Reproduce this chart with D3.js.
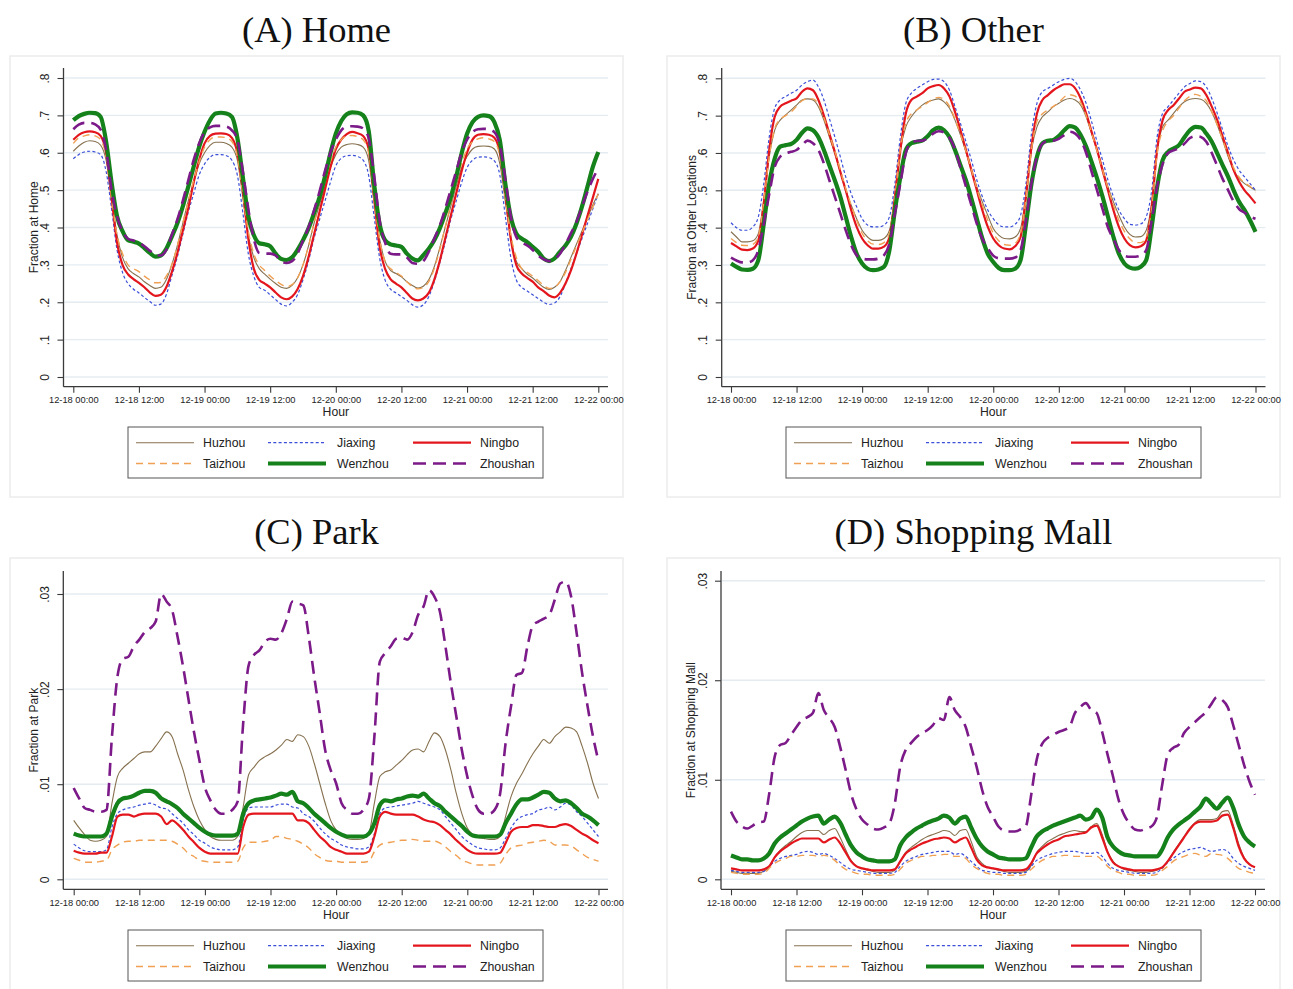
<!DOCTYPE html>
<html>
<head>
<meta charset="utf-8">
<script src="https://cdn.jsdelivr.net/npm/d3@7"></script>
<style>
  body { margin: 0; background: #fff; }
  svg { display: block; }
</style>
</head>
<body>
<svg id="chart" width="1293" height="989"></svg>
<script>
// Hours elapsed since 12-18 00:00, one reading per hour
const hours = d3.range(0, 97);
const cities = ["Huzhou", "Jiaxing", "Ningbo", "Taizhou", "Wenzhou", "Zhoushan"];
const xTickHours = [0, 12, 24, 36, 48, 60, 72, 84, 96];
const xTickLabels = ["12-18 00:00", "12-18 12:00", "12-19 00:00", "12-19 12:00", "12-20 00:00",
                     "12-20 12:00", "12-21 00:00", "12-21 12:00", "12-22 00:00"];
const shareTicks = [0, .1, .2, .3, .4, .5, .6, .7, .8];
const shareTickLabels = ["0", ".1", ".2", ".3", ".4", ".5", ".6", ".7", ".8"];
const smallTicks = [0, .01, .02, .03];
const smallTickLabels = ["0", ".01", ".02", ".03"];

// ---- (A) Home ----
const homeHuzhou = [
  .604,.618,.628,.632,.63,.62,.58,.48,.38,.32,.29,.277,.268,.255,.245,.237,.24,.26,.30,.35,.41,.47,.52,.57,
  .60,.62,.628,.628,.625,.615,.58,.48,.38,.32,.29,.275,.262,.25,.24,.237,.245,.265,.30,.35,.41,.46,.51,.56,
  .595,.615,.622,.624,.622,.615,.58,.47,.37,.31,.285,.277,.268,.255,.245,.238,.243,.26,.295,.345,.40,.455,.51,.56,
  .59,.61,.617,.618,.617,.61,.57,.47,.37,.31,.29,.275,.265,.252,.24,.234,.24,.255,.285,.32,.355,.39,.425,.46,.49];
const homeJiaxing = [
  .584,.595,.602,.604,.602,.595,.55,.45,.34,.28,.25,.235,.225,.213,.202,.192,.195,.22,.27,.32,.38,.44,.49,.54,
  .57,.588,.595,.595,.592,.58,.54,.44,.33,.27,.24,.232,.22,.207,.195,.19,.20,.22,.26,.31,.37,.42,.47,.52,
  .565,.585,.592,.593,.59,.58,.54,.43,.32,.26,.235,.225,.215,.205,.193,.187,.193,.215,.255,.305,.36,.42,.47,.52,
  .56,.58,.588,.589,.587,.578,.54,.43,.32,.26,.24,.23,.22,.21,.2,.194,.198,.215,.25,.29,.33,.37,.41,.45,.49];
const homeNingbo = [
  .635,.648,.655,.657,.655,.645,.60,.48,.36,.30,.275,.262,.252,.24,.226,.217,.22,.24,.28,.33,.39,.45,.52,.58,
  .625,.645,.651,.652,.65,.64,.60,.50,.37,.29,.26,.25,.24,.226,.213,.208,.215,.235,.27,.32,.38,.44,.50,.56,
  .61,.635,.65,.656,.652,.645,.61,.48,.35,.29,.262,.25,.24,.225,.21,.205,.21,.225,.26,.31,.37,.43,.49,.55,
  .60,.635,.648,.65,.648,.64,.60,.49,.37,.30,.277,.265,.255,.24,.23,.218,.213,.225,.25,.285,.33,.38,.43,.48,.53];
const homeTaizhou = [
  .625,.64,.645,.648,.645,.635,.59,.48,.38,.33,.30,.29,.282,.27,.26,.252,.253,.27,.30,.35,.41,.47,.525,.575,
  .615,.635,.642,.642,.64,.63,.59,.49,.39,.33,.30,.285,.27,.258,.248,.242,.247,.265,.30,.35,.41,.47,.525,.575,
  .615,.635,.645,.646,.643,.635,.60,.48,.37,.31,.29,.28,.27,.255,.242,.236,.24,.255,.29,.34,.40,.46,.52,.57,
  .61,.63,.637,.64,.637,.63,.59,.48,.38,.32,.29,.28,.27,.258,.245,.237,.24,.255,.28,.315,.35,.385,.42,.455,.49];
const homeWenzhou = [
  .687,.698,.704,.707,.706,.696,.63,.52,.43,.39,.366,.362,.357,.345,.332,.322,.325,.343,.375,.41,.455,.508,.562,.615,
  .656,.687,.705,.707,.705,.696,.64,.535,.43,.38,.358,.355,.35,.33,.316,.313,.32,.34,.366,.397,.437,.48,.535,.598,
  .651,.685,.703,.708,.707,.700,.66,.517,.41,.366,.355,.352,.348,.33,.317,.312,.326,.343,.366,.397,.437,.48,.535,.598,
  .651,.682,.696,.700,.698,.682,.633,.517,.428,.384,.37,.361,.348,.335,.317,.31,.317,.335,.352,.375,.41,.455,.508,.562,.602];
const homeZhoushan = [
  .663,.675,.680,.680,.676,.662,.607,.50,.43,.39,.37,.365,.36,.35,.338,.327,.325,.34,.38,.42,.47,.525,.58,.625,
  .655,.668,.672,.672,.670,.66,.635,.55,.45,.37,.332,.330,.330,.325,.31,.305,.31,.33,.365,.40,.445,.495,.55,.60,
  .635,.66,.67,.671,.670,.665,.64,.54,.42,.36,.33,.328,.328,.32,.305,.303,.31,.335,.37,.405,.45,.50,.55,.60,
  .635,.655,.663,.664,.663,.655,.62,.53,.43,.375,.36,.352,.34,.325,.315,.31,.315,.33,.355,.385,.415,.455,.495,.53,.558];

// ---- (B) Other locations ----
const otherHuzhou = [
  .389,.375,.362,.362,.365,.384,.474,.59,.661,.688,.702,.715,.728,.742,.745,.742,.724,.688,.643,.599,.55,.50,.46,.424,
  .393,.375,.366,.366,.371,.393,.483,.608,.67,.697,.715,.728,.737,.742,.745,.737,.72,.688,.648,.603,.554,.509,.469,.433,
  .398,.38,.371,.37,.375,.398,.491,.608,.67,.697,.71,.724,.733,.742,.746,.742,.728,.697,.652,.608,.559,.509,.469,.433,
  .402,.382,.375,.376,.393,.465,.608,.67,.688,.706,.724,.737,.744,.746,.744,.733,.71,.675,.634,.59,.554,.532,.518,.509,.50];
const otherJiaxing = [
  .413,.40,.393,.393,.402,.429,.518,.643,.72,.742,.751,.76,.768,.782,.791,.795,.777,.742,.693,.643,.59,.536,.491,.456,
  .424,.407,.402,.402,.407,.429,.518,.643,.733,.76,.773,.782,.791,.797,.798,.791,.768,.724,.679,.63,.581,.527,.483,.447,
  .424,.408,.402,.402,.409,.433,.518,.652,.733,.764,.773,.782,.791,.797,.80,.791,.768,.733,.684,.63,.581,.527,.483,.447,
  .424,.409,.407,.41,.429,.50,.643,.706,.724,.742,.76,.777,.786,.793,.791,.777,.746,.706,.661,.617,.581,.554,.536,.518,.50];
const otherNingbo = [
  .359,.35,.341,.34,.344,.366,.465,.608,.697,.724,.733,.74,.746,.764,.773,.768,.742,.70,.652,.603,.55,.50,.447,.402,
  .371,.353,.344,.344,.349,.375,.483,.608,.706,.742,.751,.76,.773,.779,.782,.773,.751,.71,.661,.608,.554,.50,.447,.402,
  .371,.353,.344,.342,.35,.375,.483,.617,.706,.742,.755,.768,.777,.784,.784,.773,.746,.706,.657,.608,.554,.50,.447,.402,
  .371,.353,.347,.35,.366,.456,.608,.688,.715,.728,.746,.764,.77,.775,.773,.755,.724,.688,.643,.599,.554,.523,.50,.483,.465];
const otherTaizhou = [
  .371,.36,.353,.352,.355,.375,.47,.59,.665,.69,.70,.71,.725,.74,.745,.745,.73,.695,.65,.605,.555,.505,.46,.42,
  .385,.365,.356,.355,.36,.385,.48,.61,.68,.705,.715,.725,.735,.745,.749,.743,.725,.69,.65,.605,.555,.505,.46,.42,
  .385,.365,.355,.353,.358,.385,.48,.61,.685,.705,.715,.725,.735,.75,.756,.752,.735,.70,.655,.605,.555,.505,.46,.42,
  .39,.37,.36,.36,.375,.45,.60,.66,.685,.70,.72,.74,.752,.757,.752,.74,.71,.675,.635,.595,.56,.535,.52,.51,.495];
const otherWenzhou = [
  .304,.295,.288,.287,.29,.313,.41,.518,.585,.617,.621,.624,.635,.654,.666,.661,.642,.608,.567,.527,.483,.429,.375,.33,
  .304,.29,.286,.288,.295,.34,.447,.536,.608,.626,.63,.633,.645,.661,.668,.661,.642,.608,.567,.527,.478,.424,.371,.33,
  .308,.292,.286,.286,.29,.313,.41,.518,.59,.626,.633,.635,.645,.661,.672,.668,.648,.617,.576,.532,.483,.429,.375,.33,
  .304,.293,.29,.295,.313,.402,.509,.581,.603,.612,.621,.642,.661,.67,.668,.652,.63,.599,.567,.536,.50,.469,.447,.42,.389];
const otherZhoushan = [
  .32,.312,.307,.307,.313,.34,.41,.49,.563,.59,.599,.603,.608,.621,.633,.626,.608,.572,.527,.483,.438,.393,.353,.326,
  .317,.315,.315,.317,.326,.357,.438,.518,.60,.628,.632,.633,.64,.652,.658,.655,.64,.61,.56,.51,.46,.41,.37,.345,
  .325,.318,.317,.317,.32,.34,.42,.52,.59,.625,.632,.633,.638,.648,.657,.652,.635,.60,.55,.50,.45,.40,.37,.34,
  .325,.322,.322,.325,.34,.42,.51,.57,.60,.607,.613,.625,.64,.645,.643,.63,.60,.565,.53,.50,.47,.45,.44,.43,.424];

// ---- (C) Park ----
const parkHuzhou = [
  .0062,.0054,.0047,.0041,.004,.0041,.0045,.008,.0108,.0117,.0122,.0127,.0132,.0134,.0134,.014,.0148,.0155,.015,.0132,.0115,.0094,.0076,.0062,
  .0052,.0045,.0042,.0041,.0041,.0041,.0045,.0076,.011,.0118,.0125,.0129,.0132,.0136,.0141,.0147,.0145,.0152,.015,.014,.0122,.0101,.008,.0062,
  .0052,.0047,.0043,.0042,.0042,.0043,.0048,.008,.0108,.0113,.0115,.012,.0125,.0131,.0136,.0137,.0134,.0145,.0154,.015,.0136,.0115,.009,.0069,
  .0054,.0047,.0044,.0043,.0042,.0042,.0045,.0066,.0087,.0101,.0111,.0122,.0132,.014,.0147,.0143,.015,.0155,.016,.0159,.0155,.014,.0122,.0101,.0085];
const parkJiaxing = [
  .0037,.0033,.003,.0029,.0029,.0029,.0031,.0055,.0069,.0073,.0075,.0076,.0078,.0079,.008,.0078,.0075,.0074,.0069,.0064,.0059,.0052,.0047,.0041,
  .0038,.0034,.0032,.0031,.0031,.0031,.0034,.0062,.0075,.0076,.0076,.0076,.0076,.0078,.0079,.0079,.0076,.0075,.0069,.0066,.0061,.0054,.0048,.0043,
  .004,.0036,.0034,.0033,.0032,.0032,.0034,.0048,.0069,.0075,.0076,.0077,.0078,.0079,.008,.0082,.008,.0078,.0076,.0073,.0066,.0059,.0052,.0045,
  .004,.0036,.0033,.0032,.0031,.0031,.0033,.0043,.0054,.0062,.0066,.0068,.0069,.0073,.0074,.0076,.0073,.0076,.008,.0078,.0071,.0066,.0059,.0052,.0045];
const parkNingbo = [
  .003,.0028,.0027,.0027,.0027,.0028,.0028,.0045,.0066,.0068,.0068,.0066,.0068,.0069,.0069,.0069,.0066,.0058,.0062,.0058,.0052,.0045,.0039,.0033,
  .0029,.0027,.0027,.0027,.0027,.0027,.0027,.0055,.0068,.0069,.0069,.0069,.0069,.0069,.0069,.0069,.0069,.0062,.0062,.0059,.0052,.0045,.004,.0034,
  .0031,.0029,.0027,.0027,.0027,.0027,.0029,.0045,.0066,.0071,.0069,.0068,.0068,.0068,.0068,.0066,.0063,.0061,.006,.0057,.0052,.0047,.0041,.0036,
  .0031,.0028,.0027,.0027,.0027,.0027,.0028,.0038,.005,.0054,.0055,.0055,.0057,.0057,.0056,.0055,.0055,.0057,.0058,.0056,.0052,.0048,.0045,.0041,.0038];
const parkTaizhou = [
  .0022,.002,.0018,.0018,.0018,.0019,.002,.0031,.0036,.0039,.004,.004,.0041,.0041,.0041,.0041,.0041,.0041,.004,.0037,.0033,.0027,.0024,.002,
  .0019,.0018,.0018,.0018,.0018,.0018,.0019,.0033,.0039,.0039,.0039,.004,.0041,.0045,.0045,.0043,.0042,.004,.0037,.0033,.0027,.0023,.002,.0019,
  .0019,.0018,.0018,.0018,.0018,.0018,.0019,.0029,.0036,.0038,.0039,.004,.0041,.0041,.0042,.0041,.004,.004,.004,.0038,.0034,.0029,.0025,.002,
  .0018,.0016,.0015,.0015,.0015,.0015,.0017,.0026,.0033,.0035,.0036,.0038,.0039,.004,.0041,.004,.0036,.0036,.0036,.0035,.0031,.0027,.0023,.0021,.0019];
const parkWenzhou = [
  .0048,.0046,.0045,.0045,.0045,.0045,.0048,.0066,.008,.0085,.0086,.0088,.0091,.0093,.0093,.0091,.0085,.0082,.0079,.0075,.0069,.0064,.0059,.0054,
  .005,.0047,.0046,.0046,.0046,.0046,.0048,.0069,.008,.0083,.0084,.0085,.0086,.0088,.009,.0089,.0092,.0082,.008,.0075,.0069,.0064,.0059,.0054,
  .005,.0047,.0045,.0045,.0045,.0045,.0048,.0059,.0078,.0083,.0082,.0084,.0085,.0087,.0088,.0087,.009,.0085,.008,.0077,.0071,.0066,.0061,.0056,
  .005,.0046,.0045,.0045,.0045,.0045,.0047,.0059,.0069,.0079,.0084,.0084,.0086,.0089,.0092,.0091,.0085,.0082,.0083,.008,.0075,.0069,.0066,.0062,.0057];
const parkZhoushan = [
  .0096,.0085,.0075,.0073,.0071,.0071,.0073,.015,.0213,.0232,.0234,.0245,.0252,.026,.0264,.0271,.030,.0292,.0283,.0255,.0224,.0189,.0155,.0125,
  .0097,.0083,.0073,.0069,.0069,.0073,.0082,.0164,.0225,.0236,.0241,.025,.0253,.0252,.0259,.0274,.0292,.029,.0288,.0255,.0213,.0175,.0136,.0115,
  .0101,.008,.0073,.0069,.0069,.0073,.0085,.015,.0229,.0238,.0245,.0253,.0254,.0252,.026,.0278,.0287,.0304,.0297,.0281,.0245,.0206,.0171,.0136,
  .0108,.0087,.0073,.0069,.0069,.0073,.009,.0143,.0182,.0215,.0217,.0245,.0267,.0271,.0274,.0278,.0294,.0311,.0313,.0297,.0259,.0217,.0182,.015,.0124];

// ---- (D) Shopping mall ----
const mallHuzhou = [
  .0008,.0007,.0006,.0006,.0006,.0006,.0008,.0012,.0022,.0029,.0034,.0038,.0043,.0047,.0049,.0049,.0049,.0045,.0049,.0051,.0042,.003,.0019,.0013,
  .0011,.0009,.0008,.0007,.0007,.0007,.0009,.0018,.0027,.0032,.0036,.004,.0043,.0045,.0047,.0049,.0048,.0044,.0049,.005,.0038,.0023,.0016,.0012,
  .0011,.0009,.0008,.0007,.0007,.0007,.0008,.0014,.0027,.0033,.0038,.0041,.0044,.0046,.0048,.0049,.0048,.0048,.0053,.0056,.0045,.0028,.0018,.0013,
  .001,.0009,.0008,.0007,.0007,.0008,.0009,.0012,.0018,.0027,.0035,.0043,.0051,.0057,.006,.006,.006,.0061,.0068,.0069,.0055,.0036,.0022,.0015,.0012];
const mallJiaxing = [
  .0009,.0008,.0007,.0007,.0007,.0007,.0008,.0013,.0018,.0021,.0023,.0024,.0025,.0027,.0028,.0027,.0025,.0026,.0024,.0021,.0017,.0013,.001,.0009,
  .0008,.0007,.0006,.0006,.0006,.0006,.0007,.0013,.0018,.0021,.0023,.0025,.0026,.0027,.0028,.0028,.0028,.0025,.0026,.0023,.0018,.0013,.0009,.0008,
  .0007,.0007,.0006,.0006,.0006,.0006,.0007,.0013,.0019,.0022,.0024,.0026,.0027,.0028,.0028,.0028,.0027,.0026,.0026,.0027,.0023,.0016,.0011,.0009,
  .0008,.0007,.0006,.0006,.0006,.0006,.0007,.0011,.0017,.0021,.0025,.0028,.003,.0031,.0032,.003,.0028,.0029,.003,.0028,.0021,.0016,.0013,.0011,.0009];
const mallNingbo = [
  .0011,.001,.0009,.0009,.0009,.0009,.001,.0013,.0022,.0028,.0032,.0036,.0039,.0041,.0041,.0041,.0041,.0037,.004,.0042,.0036,.0027,.0018,.0013,
  .0011,.001,.0009,.0009,.0009,.0009,.001,.0018,.0026,.003,.0033,.0036,.0038,.004,.0041,.0042,.0041,.0037,.004,.0042,.0032,.002,.0014,.0012,
  .0011,.001,.0009,.0009,.0009,.0009,.001,.0016,.0026,.0031,.0035,.0038,.004,.0043,.0044,.0045,.0046,.0047,.0052,.0054,.0042,.0027,.0017,.0013,
  .0011,.001,.0009,.0009,.0009,.0009,.001,.0012,.0018,.0026,.0034,.0042,.005,.0056,.0058,.0058,.0058,.0059,.0064,.0065,.0052,.0033,.0021,.0015,.0012];
const mallTaizhou = [
  .0007,.0006,.0005,.0005,.0005,.0005,.0006,.0011,.0016,.0019,.0021,.0023,.0023,.0024,.0024,.0024,.0023,.0024,.0023,.0019,.0014,.001,.0008,.0006,
  .0005,.0005,.0004,.0004,.0004,.0004,.0005,.001,.0016,.0019,.0021,.0023,.0023,.0024,.0024,.0025,.0025,.0023,.0023,.0021,.0015,.0011,.0008,.0006,
  .0005,.0005,.0004,.0004,.0004,.0004,.0005,.001,.0015,.0019,.0021,.0023,.0023,.0024,.0024,.0023,.0023,.0023,.0023,.0023,.0019,.0013,.0009,.0007,
  .0005,.0005,.0004,.0004,.0004,.0004,.0005,.0009,.0013,.0018,.0021,.0023,.0025,.0026,.0024,.0023,.0026,.0025,.0024,.0021,.0016,.0011,.0009,.0007,.0006];
const mallWenzhou = [
  .0024,.0022,.002,.002,.0019,.0019,.0021,.0026,.0036,.0042,.0046,.005,.0054,.0058,.0061,.0063,.0064,.0056,.006,.0063,.0057,.0045,.0034,.0027,
  .0023,.002,.0019,.0018,.0018,.0018,.002,.0034,.0042,.0047,.0051,.0054,.0057,.0059,.0061,.0064,.0062,.0056,.0061,.0063,.0052,.0041,.0033,.0028,
  .0025,.0022,.0021,.002,.002,.002,.0021,.0032,.0043,.0048,.0051,.0054,.0056,.0058,.006,.0062,.0064,.006,.0062,.007,.0062,.0042,.0033,.0028,
  .0025,.0024,.0023,.0023,.0023,.0023,.0023,.003,.0042,.005,.0055,.0059,.0063,.0068,.0073,.0081,.0076,.0071,.0077,.0082,.0072,.0055,.0043,.0037,.0033];
const mallZhoushan = [
  .0068,.0058,.0053,.0051,.0054,.0057,.0058,.0086,.0123,.0135,.0137,.0145,.0153,.016,.0163,.0167,.0187,.017,.0162,.0153,.0133,.011,.0086,.007,
  .006,.0055,.0051,.005,.0052,.0056,.0076,.0113,.013,.0137,.0143,.0147,.015,.0155,.0162,.016,.0183,.017,.0163,.0153,.0133,.0113,.009,.0073,
  .0063,.0053,.0049,.0048,.0048,.005,.0053,.0085,.012,.0136,.0142,.0145,.0148,.015,.0153,.0167,.0173,.0177,.017,.0167,.0148,.0125,.0103,.008,
  .0065,.0056,.005,.0049,.0051,.0053,.0062,.0095,.0125,.0132,.0135,.0147,.0153,.0158,.0163,.0168,.0176,.0183,.018,.0173,.0155,.0135,.0115,.0098,.0085];

// ---- line styles per city ----
const cityStyle = {
  Huzhou:   { color: "#86714f", width: 1.1, dash: null },
  Jiaxing:  { color: "#3b4fd8", width: 1.2, dash: "3,2.3" },
  Ningbo:   { color: "#e3161d", width: 2.2, dash: null },
  Taizhou:  { color: "#f0a053", width: 1.4, dash: "7,5" },
  Wenzhou:  { color: "#14811b", width: 4.2, dash: null },
  Zhoushan: { color: "#7b1a88", width: 2.6, dash: "13,7" }
};

// ---- panel layout ----
const panels = [
  { title: "(A) Home", yTitle: "Fraction at Home",
    data: [homeHuzhou, homeJiaxing, homeNingbo, homeTaizhou, homeWenzhou, homeZhoushan],
    ticks: shareTicks, tickLabels: shareTickLabels,
    xRange: [73.3, 598.3], yDomain: [0, .8], yRange: [377, 78],
    axisX: 63.5, axisY: 386.7, plotTop: 68, plotRight: 608,
    frame: [10, 56, 613, 441], titleX: 316.5, titleY: 42, legendX: 128, legendY: 427 },
  { title: "(B) Other", yTitle: "Fraction at Other Locations",
    data: [otherHuzhou, otherJiaxing, otherNingbo, otherTaizhou, otherWenzhou, otherZhoushan],
    ticks: shareTicks, tickLabels: shareTickLabels,
    xRange: [731, 1255.5], yDomain: [0, .8], yRange: [377, 78.3],
    axisX: 721.7, axisY: 386.7, plotTop: 68, plotRight: 1265.5,
    frame: [667, 56, 613, 441], titleX: 973.5, titleY: 42, legendX: 786, legendY: 427 },
  { title: "(C) Park", yTitle: "Fraction at Park",
    data: [parkHuzhou, parkJiaxing, parkNingbo, parkTaizhou, parkWenzhou, parkZhoushan],
    ticks: smallTicks, tickLabels: smallTickLabels,
    xRange: [73.7, 598.5], yDomain: [0, .03], yRange: [879.3, 594],
    axisX: 63.3, axisY: 889.3, plotTop: 571, plotRight: 608,
    frame: [10, 558, 613, 440], titleX: 316.5, titleY: 544, legendX: 128, legendY: 930 },
  { title: "(D) Shopping Mall", yTitle: "Fraction at Shopping Mall",
    data: [mallHuzhou, mallJiaxing, mallNingbo, mallTaizhou, mallWenzhou, mallZhoushan],
    ticks: smallTicks, tickLabels: smallTickLabels,
    xRange: [731, 1255], yDomain: [0, .03], yRange: [879.3, 580.7],
    axisX: 721, axisY: 889.3, plotTop: 571, plotRight: 1265,
    frame: [667, 558, 613, 440], titleX: 973.5, titleY: 544, legendX: 786, legendY: 930 }
];

const sans = "'Liberation Sans', Arial, Helvetica, sans-serif";
const svg = d3.select("#chart");
svg.append("rect").attr("width", 1293).attr("height", 989).attr("fill", "#fff");

panels.forEach(p => {
  const g = svg.append("g");
  const x = d3.scaleLinear().domain([0, 96]).range(p.xRange);
  const y = d3.scaleLinear().domain(p.yDomain).range(p.yRange);

  // light frame around the graph region
  g.append("rect")
    .attr("x", p.frame[0]).attr("y", p.frame[1])
    .attr("width", p.frame[2]).attr("height", p.frame[3])
    .attr("fill", "none").attr("stroke", "#ececec").attr("stroke-width", 1.5);

  // title
  g.append("text")
    .attr("x", p.titleX).attr("y", p.titleY)
    .attr("text-anchor", "middle")
    .attr("font-family", "'Liberation Serif', 'DejaVu Serif', serif")
    .attr("font-size", 36.5).attr("fill", "#111")
    .text(p.title);

  // horizontal grid lines
  g.append("g").selectAll("line").data(p.ticks).join("line")
    .attr("x1", p.axisX + 1).attr("x2", p.plotRight)
    .attr("y1", d => y(d)).attr("y2", d => y(d))
    .attr("stroke", "#e4ecf1").attr("stroke-width", 1.4);

  // y axis
  const yAxis = d3.axisLeft(y).tickValues(p.ticks)
    .tickFormat((d, i) => p.tickLabels[i]).tickSize(6).tickSizeOuter(0);
  const gy = g.append("g").attr("transform", `translate(${p.axisX},0)`).call(yAxis);
  gy.select(".domain").remove();
  gy.selectAll(".tick line").attr("stroke", "#3a3a3a").attr("stroke-width", 1.1);
  gy.selectAll(".tick text")
    .attr("x", null).attr("dy", "0.35em")
    .attr("transform", "translate(-18.5,0) rotate(-90)")
    .attr("text-anchor", "middle")
    .attr("font-family", sans).attr("font-size", 12).attr("fill", "#222");

  // x axis
  const xAxis = d3.axisBottom(x).tickValues(xTickHours)
    .tickFormat((d, i) => xTickLabels[i]).tickSize(6).tickSizeOuter(0);
  const gx = g.append("g").attr("transform", `translate(0,${p.axisY})`).call(xAxis);
  gx.select(".domain").remove();
  gx.selectAll(".tick line").attr("stroke", "#3a3a3a").attr("stroke-width", 1.1);
  gx.selectAll(".tick text")
    .attr("y", 16.6).attr("dy", null)
    .attr("font-family", sans).attr("font-size", 9.3).attr("fill", "#222");

  // axis lines
  g.append("line").attr("x1", p.axisX).attr("x2", p.axisX)
    .attr("y1", p.plotTop).attr("y2", p.axisY)
    .attr("stroke", "#3a3a3a").attr("stroke-width", 1.3);
  g.append("line").attr("x1", p.axisX).attr("x2", p.plotRight)
    .attr("y1", p.axisY).attr("y2", p.axisY)
    .attr("stroke", "#3a3a3a").attr("stroke-width", 1.3);

  // axis titles
  const midY = (p.plotTop + p.axisY) / 2;
  g.append("text")
    .attr("transform", `translate(${p.axisX - 30},${midY}) rotate(-90)`)
    .attr("text-anchor", "middle").attr("dy", "0.35em")
    .attr("font-family", sans).attr("font-size", 12).attr("fill", "#222")
    .text(p.yTitle);
  g.append("text")
    .attr("x", (p.xRange[0] + p.xRange[1]) / 2).attr("y", p.axisY + 29.3)
    .attr("text-anchor", "middle")
    .attr("font-family", sans).attr("font-size", 12.2).attr("fill", "#222")
    .text("Hour");

  // series lines
  const line = d3.line()
    .x((d, i) => x(hours[i]))
    .y(d => y(d))
    .curve(d3.curveMonotoneX);
  cities.forEach((c, k) => {
    const s = cityStyle[c];
    g.append("path")
      .datum(p.data[k])
      .attr("d", line)
      .attr("fill", "none")
      .attr("stroke", s.color)
      .attr("stroke-width", s.width)
      .attr("stroke-dasharray", s.dash)
      .attr("stroke-linejoin", "round");
  });

  // legend
  const lg = g.append("g").attr("transform", `translate(${p.legendX},${p.legendY})`);
  lg.append("rect").attr("width", 415).attr("height", 51)
    .attr("fill", "#fff").attr("stroke", "#555").attr("stroke-width", 1);
  const colLine = [8, 140, 285], colText = [75, 209, 352], rowY = [15.7, 36.5];
  cities.forEach((c, k) => {
    const r = Math.floor(k / 3), col = k % 3, s = cityStyle[c];
    lg.append("line")
      .attr("x1", colLine[col]).attr("x2", colLine[col] + 58)
      .attr("y1", rowY[r]).attr("y2", rowY[r])
      .attr("stroke", s.color).attr("stroke-width", s.width)
      .attr("stroke-dasharray", s.dash);
    lg.append("text")
      .attr("x", colText[col]).attr("y", rowY[r]).attr("dy", "0.35em")
      .attr("font-family", sans).attr("font-size", 12.3).attr("fill", "#222")
      .text(c);
  });
});
</script>
</body>
</html>
